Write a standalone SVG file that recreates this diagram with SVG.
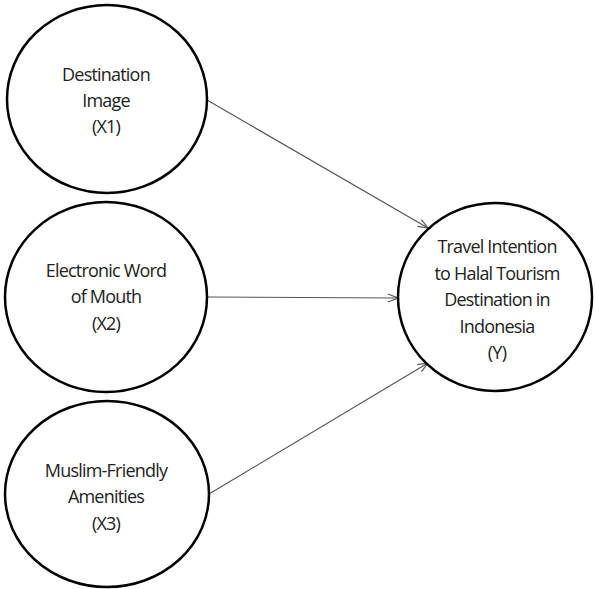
<svg xmlns="http://www.w3.org/2000/svg" width="596" height="589" viewBox="0 0 596 589">
<style>
.node{fill:#fff;stroke:#000;stroke-width:2.5}
.lbl{font-family:"Open Sans","Liberation Sans",sans-serif;font-size:18px;letter-spacing:-0.8px;fill:#222;text-anchor:middle}
.edge{stroke:#555;stroke-width:1.2;fill:none}
</style>
<defs>
<marker id="arr" viewBox="0 0 12 10" refX="11" refY="5" markerWidth="12" markerHeight="10" markerUnits="userSpaceOnUse" orient="auto">
<path d="M1,1 L11,5 L1,9" fill="none" stroke="#555" stroke-width="1.2"/>
</marker>
</defs>
<g id="edges">
<line class="edge" x1="207" y1="100" x2="428" y2="228" marker-end="url(#arr)"/>
<line class="edge" x1="208" y1="297" x2="398" y2="298" marker-end="url(#arr)"/>
<line class="edge" x1="209" y1="494" x2="428" y2="363" marker-end="url(#arr)"/>
</g>
<g id="x1">
<ellipse class="node" cx="107" cy="99" rx="100" ry="94"/>
<text class="lbl" x="106" y="81">Destination</text>
<text class="lbl" x="106" y="107">Image</text>
<text class="lbl" x="106" y="133">(X1)</text>
</g>
<g id="x2">
<ellipse class="node" cx="106" cy="297" rx="101" ry="95"/>
<text class="lbl" x="106" y="277">Electronic Word</text>
<text class="lbl" x="106" y="303">of Mouth</text>
<text class="lbl" x="106" y="330">(X2)</text>
</g>
<g id="x3">
<ellipse class="node" cx="107" cy="494" rx="102" ry="93"/>
<text class="lbl" x="106" y="477">Muslim-Friendly</text>
<text class="lbl" x="106" y="503">Amenities</text>
<text class="lbl" x="106" y="530">(X3)</text>
</g>
<g id="y">
<ellipse class="node" cx="495" cy="297" rx="97" ry="94"/>
<text class="lbl" x="497" y="253">Travel Intention</text>
<text class="lbl" x="497" y="280">to Halal Tourism</text>
<text class="lbl" x="497" y="306">Destination in</text>
<text class="lbl" x="497" y="333">Indonesia</text>
<text class="lbl" x="497" y="359">(Y)</text>
</g>
</svg>
